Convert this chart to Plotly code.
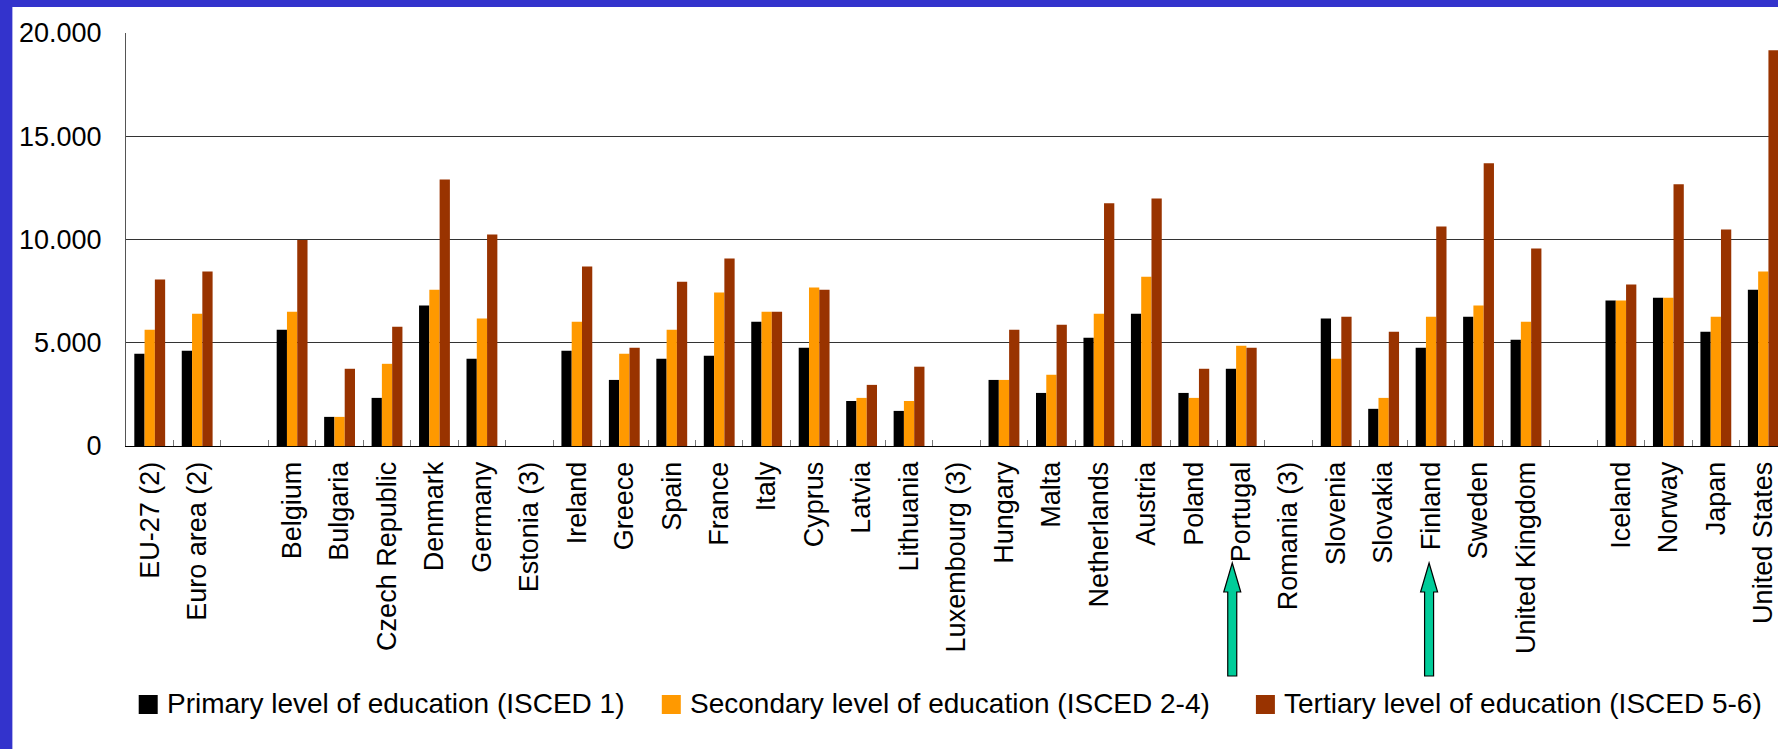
import plotly.graph_objects as go

# ---------------- data ----------------
categories = ["EU-27 (2)", "Euro area (2)", " ", "Belgium", "Bulgaria", "Czech Republic",
              "Denmark", "Germany", "Estonia (3)", "Ireland", "Greece", "Spain", "France",
              "Italy", "Cyprus", "Latvia", "Lithuania", "Luxembourg (3)", "Hungary", "Malta",
              "Netherlands", "Austria", "Poland", "Portugal", "Romania (3)", "Slovenia",
              "Slovakia", "Finland", "Sweden", "United Kingdom", "  ", "Iceland", "Norway",
              "Japan", "United States"]

primary = [4470, 4610, None, 5630, 1410, 2330, 6800, 4220, None, 4610, 3200, 4220, 4370,
           6020, 4760, 2180, 1700, None, 3200, 2570, 5240, 6410, 2570, 3740, None, 6170,
           1800, 4760, 6260, 5150, None, 7040, 7180, 5530, 7570]
secondary = [5630, 6410, None, 6500, 1410, 3980, 7570, 6170, None, 6020, 4470, 5630, 7430,
             6500, 7670, 2330, 2180, None, 3200, 3450, 6410, 8200, 2330, 4850, None, 4220,
             2330, 6260, 6800, 6020, None, 7040, 7180, 6260, 8450]
tertiary = [8060, 8450, None, 9970, 3740, 5780, 12910, 10240, None, 8690, 4760, 7960, 9080,
            6500, 7570, 2960, 3840, None, 5630, 5870, 11750, 11990, 3740, 4760, None, 6260,
            5530, 10630, 13690, 9560, None, 7820, 12670, 10490, 19170]

series_names = ["Primary level of education (ISCED 1)",
                "Secondary level of education (ISCED 2-4)",
                "Tertiary level of education (ISCED 5-6)"]
y_ticks = [0, 5000, 10000, 15000, 20000]
highlighted = ["Portugal", "Finland"]

# ---------------- style ----------------
colors = ["#000000", "#FF9900", "#993300"]
FONT = "Liberation Sans, Arial, sans-serif"
W, H = 1778, 749
L, T, B = 126.3, 33, 446          # plot area pixel edges
PW, PH = W - L, B - T


def px_x(px):
    return (px - L) / PW


def px_y(py):
    return (B - py) / PH


fig = go.Figure()
for name, vals, col in zip(series_names, [primary, secondary, tertiary], colors):
    fig.add_trace(go.Bar(x=categories, y=vals, name=name, marker_color=col,
                         marker_line_width=0, showlegend=False))

shapes = []
annotations = []

# blue frame (left and top strips)
shapes.append(dict(type="rect", xref="paper", yref="paper", x0=px_x(0), x1=px_x(12.7),
                   y0=px_y(H), y1=px_y(0), fillcolor="#3333CC", line_width=0, layer="above"))
shapes.append(dict(type="rect", xref="paper", yref="paper", x0=px_x(0), x1=px_x(W),
                   y0=px_y(7), y1=px_y(0), fillcolor="#3333CC", line_width=0, layer="above"))

# green arrows under highlighted countries
arrow_offsets = {"Portugal": -9, "Finland": -2}
for c in highlighted:
    idx = categories.index(c)
    o = arrow_offsets[c]
    path = (f"M {o},-117 L {o-8.5},-146 L {o-4.5},-146 L {o-4.5},-230 "
            f"L {o+4.5},-230 L {o+4.5},-146 L {o+8.5},-146 Z")
    shapes.append(dict(type="path", xref="x", yref="paper", xsizemode="pixel",
                       ysizemode="pixel", xanchor=idx, yanchor=0, path=path,
                       fillcolor="#00CC99", line=dict(color="#000000", width=1.2)))

# manual legend
legend_sq_left = [139, 662, 1256]
for name, col, sx in zip(series_names, colors, legend_sq_left):
    shapes.append(dict(type="rect", xref="paper", yref="paper", x0=px_x(sx), x1=px_x(sx + 19),
                       y0=px_y(714), y1=px_y(695), fillcolor=col, line_width=0))
    annotations.append(dict(xref="paper", yref="paper", x=px_x(sx + 26), y=px_y(703),
                            xanchor="left", yanchor="middle", showarrow=False, text=name,
                            font=dict(family=FONT, size=28, color="#000000")))

fig.update_layout(
    width=W, height=H,
    margin=dict(l=L, r=0, t=T, b=H - B, pad=0),
    paper_bgcolor="#FFFFFF", plot_bgcolor="#FFFFFF",
    barmode="group", bargap=0.35, bargroupgap=0,
    separators=",.",
    font=dict(family=FONT, size=27, color="#000000"),
    shapes=shapes, annotations=annotations,
    xaxis=dict(type="category", categoryorder="array", categoryarray=categories,
               range=[-0.5, 34.31], tickangle=-90, tickson="boundaries",
               ticks="inside", ticklen=6, tickcolor="#777777", tickwidth=1,
               showline=True, linecolor="#000000", linewidth=1, showgrid=False,
               tickfont=dict(family=FONT, size=27, color="#000000"),
               ticklabelstandoff=4),
    yaxis=dict(range=[0, 20000], tickvals=y_ticks, tickformat=",.0f",
               showgrid=True, gridcolor="#333333", gridwidth=1, zeroline=False,
               showline=True, linecolor="#555555", linewidth=1, ticks="",
               tickfont=dict(family=FONT, size=27, color="#000000"),
               ticklabelstandoff=18),
)

fig.write_html("out.html",
               config={"displayModeBar": False},
               post_script="document.body.style.margin='0px';"
                           "document.body.style.overflow='hidden';")
